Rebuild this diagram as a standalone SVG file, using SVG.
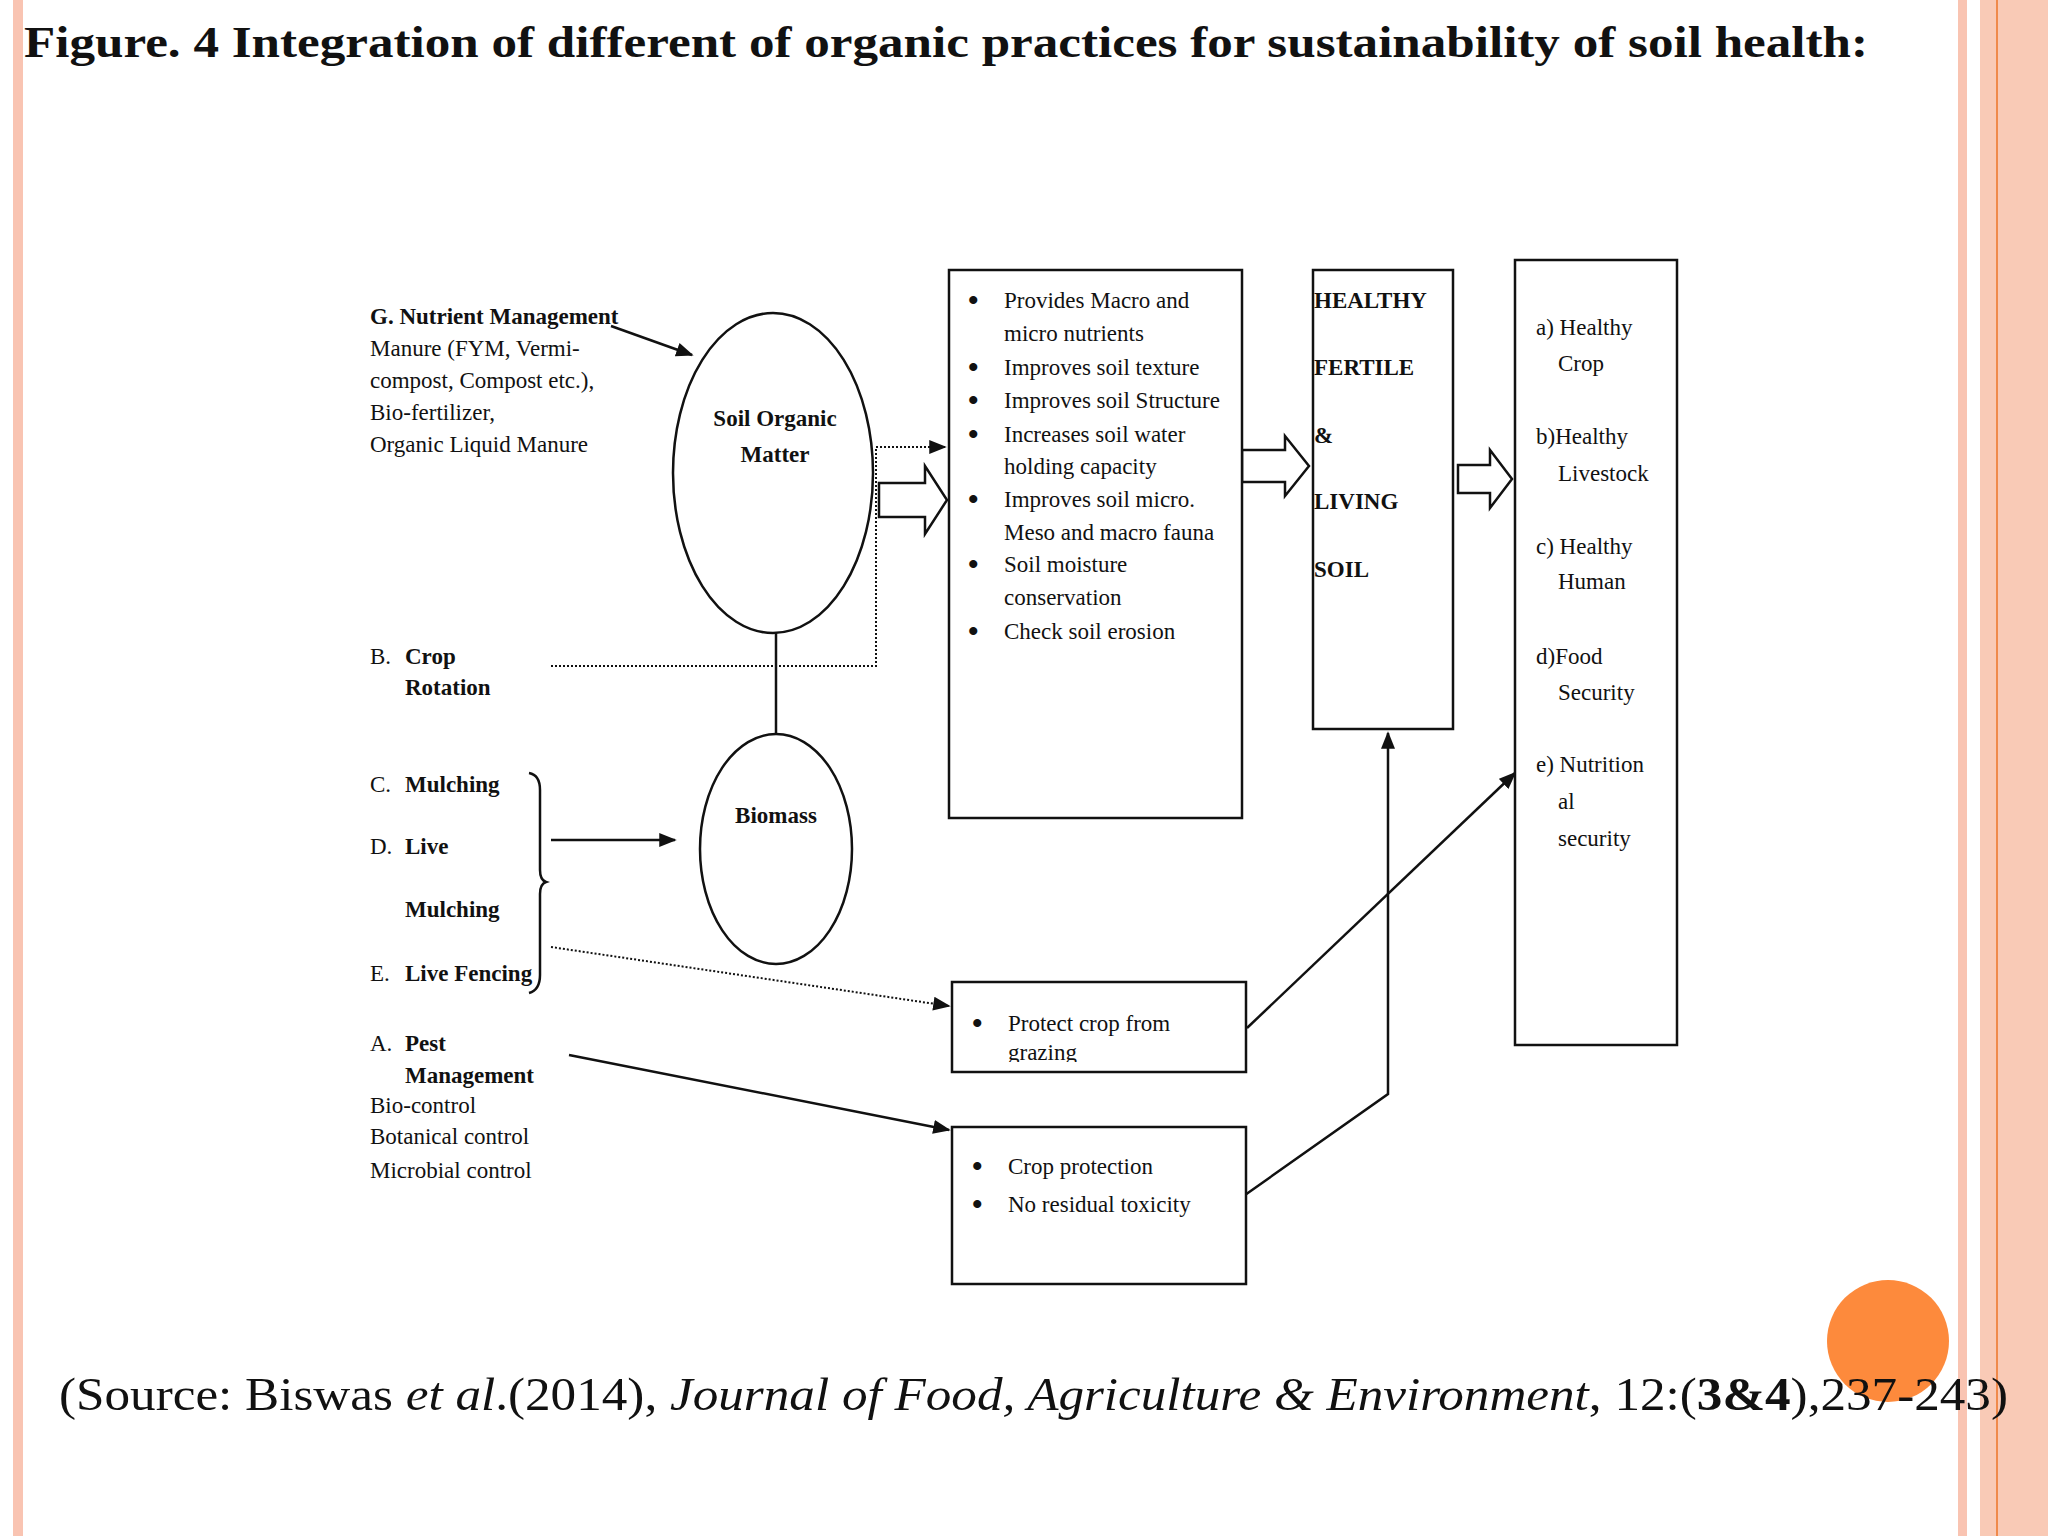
<svg xmlns="http://www.w3.org/2000/svg" width="2048" height="1536" viewBox="0 0 2048 1536">
<style>
text{font-family:"Liberation Serif",serif;fill:#111}
.t{font-size:23px}
.b{font-size:23px;font-weight:bold}
.bu{font-size:30px;font-weight:bold}
.ln{stroke:#111;stroke-width:2.5;fill:none}
.dot{stroke:#111;stroke-width:2;fill:none;stroke-dasharray:2 2}
.box{stroke:#111;stroke-width:2.5;fill:#fff}
</style>
<defs>
<marker id="ah2" viewBox="0 0 10 8" refX="9" refY="4" markerWidth="18" markerHeight="14" orient="auto" markerUnits="userSpaceOnUse"><path d="M0,0L10,4L0,8Z" fill="#111"/></marker>
</defs>
<rect width="2048" height="1536" fill="#fff"/>
<g id="borders">
<rect x="13" y="0" width="10" height="1536" fill="#f9c4b2"/>
<rect x="1958" y="0" width="9" height="1536" fill="#f9c4b2"/>
<rect x="1980" y="0" width="68" height="1536" fill="#f9cab6"/>
<rect x="1996" y="0" width="2" height="1536" fill="#f08a4b"/>
</g>
<text x="24" y="57" textLength="1844" lengthAdjust="spacingAndGlyphs" style="font-size:45px;font-weight:bold">Figure. 4 Integration of different of organic practices for sustainability of soil health:</text>
<g id="connectors">
<line class="ln" x1="611" y1="326" x2="692" y2="355" marker-end="url(#ah2)"/>
<line class="ln" x1="776" y1="632" x2="776" y2="734"/>
<polyline class="dot" points="551,666 876,666 876,447 945,447" marker-end="url(#ah2)"/>
<line class="ln" x1="551" y1="840" x2="675" y2="840" marker-end="url(#ah2)"/>
<line class="dot" x1="551" y1="947" x2="949" y2="1006" marker-end="url(#ah2)"/>
<line class="ln" x1="569" y1="1055" x2="949" y2="1130" marker-end="url(#ah2)"/>
<line class="ln" x1="1247" y1="1028" x2="1515" y2="773" marker-end="url(#ah2)"/>
<polyline class="ln" points="1245,1195 1388,1094 1388,733" marker-end="url(#ah2)"/>
<path class="ln" d="M879,483H925V466L947,500L925,534V517H879Z"/>
<path class="ln" d="M1242,450H1285V436L1309,466L1285,496V482H1242Z"/>
<path class="ln" d="M1458,465H1490V450L1512,479L1490,508V493H1458Z"/>
<path class="ln" d="M529,773Q540,775 540,790V870Q540,880 546,882Q540,884 540,894V975Q540,990 529,993"/>
</g>
<g id="som"><ellipse class="box" cx="773" cy="473" rx="100" ry="160"/>
<text class="b" x="775" y="426" text-anchor="middle">Soil Organic</text><text class="b" x="775" y="462" text-anchor="middle">Matter</text></g>
<g id="biomass"><ellipse class="box" cx="776" cy="849" rx="76" ry="115"/>
<text class="b" x="776" y="823" text-anchor="middle">Biomass</text></g>
<g id="left-text">
<text x="370" y="324"><tspan class="b">G.  Nutrient Management</tspan><tspan class="t" x="370" dy="32">Manure (FYM, Vermi-</tspan><tspan class="t" x="370" dy="32">compost, Compost etc.),</tspan><tspan class="t" x="370" dy="32">Bio-fertilizer,</tspan><tspan class="t" x="370" dy="32">Organic Liquid Manure</tspan></text>
<text class="t" x="370" y="664">B.</text><text class="b" x="405" y="664">Crop</text><text class="b" x="405" y="695">Rotation</text>
<text class="t" x="370" y="792">C.</text><text class="b" x="405" y="792">Mulching</text>
<text class="t" x="370" y="854">D.</text><text class="b" x="405" y="854">Live</text>
<text class="b" x="405" y="917">Mulching</text>
<text class="t" x="370" y="981">E.</text><text class="b" x="405" y="981">Live Fencing</text>
<text class="t" x="370" y="1051">A.</text><text class="b" x="405" y="1051">Pest</text><text class="b" x="405" y="1083">Management</text>
<text class="t" x="370" y="1113">Bio-control</text><text class="t" x="370" y="1144">Botanical control</text><text class="t" x="370" y="1178">Microbial control</text>
</g>
<g id="benefits"><rect class="box" x="949" y="270" width="293" height="548"/>
<g class="t">
<text class="bu" x="968" y="310">•</text><text x="1004" y="308">Provides Macro and</text>
<text x="1004" y="341">micro nutrients</text>
<text class="bu" x="968" y="377">•</text><text x="1004" y="375">Improves soil texture</text>
<text class="bu" x="968" y="410">•</text><text x="1004" y="408">Improves soil Structure</text>
<text class="bu" x="968" y="444">•</text><text x="1004" y="442">Increases soil water</text>
<text x="1004" y="474">holding capacity</text>
<text class="bu" x="968" y="509">•</text><text x="1004" y="507">Improves soil micro.</text>
<text x="1004" y="540">Meso and macro fauna</text>
<text class="bu" x="968" y="574">•</text><text x="1004" y="572">Soil moisture</text>
<text x="1004" y="605">conservation</text>
<text class="bu" x="968" y="641">•</text><text x="1004" y="639">Check soil erosion</text></g></g>
<g id="healthy"><rect class="box" x="1313" y="270" width="140" height="459"/>
<text class="b" x="1314" y="308">HEALTHY</text><text class="b" x="1314" y="375">FERTILE</text><text class="b" x="1314" y="443">&amp;</text><text class="b" x="1314" y="509">LIVING</text><text class="b" x="1314" y="577">SOIL</text></g>
<g id="outcomes"><rect class="box" x="1515" y="260" width="162" height="785"/>
<g class="t"><text x="1536" y="335">a) Healthy</text><text x="1558" y="371">Crop</text>
<text x="1536" y="444">b)Healthy</text><text x="1558" y="481">Livestock</text>
<text x="1536" y="554">c) Healthy</text><text x="1558" y="589">Human</text>
<text x="1536" y="664">d)Food</text><text x="1558" y="700">Security</text>
<text x="1536" y="772">e) Nutrition</text><text x="1558" y="809">al</text><text x="1558" y="846">security</text></g></g>
<g id="protect"><rect class="box" x="952" y="982" width="294" height="90"/>
<text class="bu" x="972" y="1033">•</text><text class="t" x="1008" y="1031">Protect crop from</text><text class="t" x="1008" y="1060">grazing</text>
<rect x="1000" y="1062" width="100" height="8" fill="#fff"/></g>
<g id="crop-protection"><rect class="box" x="952" y="1127" width="294" height="157"/>
<text class="bu" x="972" y="1176">•</text><text class="t" x="1008" y="1174">Crop protection</text>
<text class="bu" x="972" y="1214">•</text><text class="t" x="1008" y="1212">No residual toxicity</text></g>
<circle cx="1888" cy="1341" r="61" fill="#fd8a3c"/>
<text x="59" y="1410" textLength="1949" lengthAdjust="spacingAndGlyphs" style="font-size:47px">(Source: Biswas <tspan font-style="italic">et al</tspan>.(2014), <tspan font-style="italic">Journal of Food, Agriculture &amp; Environment</tspan>, 12:(<tspan font-weight="bold">3&amp;4</tspan>),237-243)</text>
</svg>
